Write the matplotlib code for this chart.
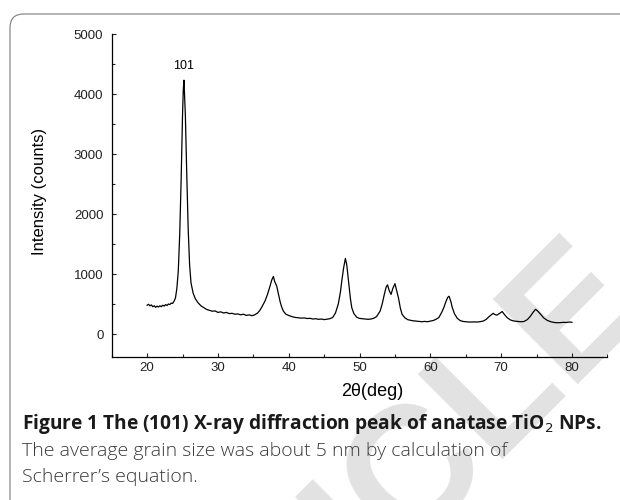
import matplotlib
matplotlib.use("Agg")
import matplotlib.pyplot as plt
from matplotlib.patches import FancyBboxPatch
from matplotlib.ticker import MultipleLocator

# XRD pattern: 2theta (deg) vs intensity (counts)
two_theta = [20.0, 20.2, 20.4, 20.6, 20.8, 21.0, 21.2, 21.4, 21.6, 21.8,
             22.0, 22.2, 22.4, 22.6, 22.8, 23.0, 23.2, 23.4, 23.6, 23.8,
             24.0, 24.2, 24.4, 24.6, 24.8, 25.0, 25.1, 25.2, 25.4, 25.6,
             25.8, 26.0, 26.2, 26.5, 26.8, 27.2, 27.6, 28.0, 28.4, 28.8,
             29.2, 29.6, 30.0, 30.4, 30.8, 31.2, 31.6, 32.0, 32.4, 32.8,
             33.2, 33.6, 34.0, 34.4, 34.8, 35.2, 35.6, 35.9, 36.2, 36.65,
             37.0, 37.36, 37.6, 37.83, 38.0, 38.3, 38.55, 38.78, 39.0, 39.25,
             39.6, 40.2, 40.6, 41.0, 41.4, 41.8, 42.2, 42.6, 43.0, 43.4,
             43.8, 44.2, 44.6, 45.0, 45.4, 45.8, 46.2, 46.6, 47.0, 47.3,
             47.5, 47.75, 48.0, 48.2, 48.45, 48.7, 48.9, 49.2, 49.6, 50.0,
             50.4, 50.8, 51.2, 51.6, 52.0, 52.4, 52.9, 53.2, 53.5, 53.75,
             53.95, 54.2, 54.45, 54.7, 55.0, 55.25, 55.5, 55.75, 56.0, 56.4,
             56.8, 57.2, 57.6, 58.0, 58.4, 58.8, 59.2, 59.6, 60.0, 60.4,
             60.8, 61.2, 61.6, 61.9, 62.2, 62.45, 62.65, 62.9, 63.1, 63.4,
             63.8, 64.2, 64.6, 65.0, 65.4, 65.8, 66.2, 66.6, 67.0, 67.5,
             67.9, 68.25, 68.6, 68.87, 69.1, 69.4, 69.8, 70.15, 70.5, 70.86,
             71.3, 71.8, 72.3, 72.8, 73.2, 73.7, 74.15, 74.5, 74.86, 75.1,
             75.57, 76.0, 76.5, 77.0, 77.5, 77.9, 78.4, 78.8, 79.2, 79.6,
             80.0]
counts = [480, 495, 470, 485, 455, 470, 445, 465, 450, 470,
          455, 480, 465, 490, 475, 500, 490, 515, 510, 545,
          600, 760, 1050, 1650, 2550, 3650, 4050, 4230, 3650, 2650,
          1750, 1150, 850, 680, 590, 520, 470, 440, 410, 395,
          380, 385, 360, 370, 350, 360, 340, 345, 330, 335,
          320, 330, 310, 320, 305, 320, 350, 390, 450, 550,
          660, 800, 900, 960, 880, 800, 660, 540, 450, 380,
          330, 300, 285, 275, 270, 265, 268, 258, 262, 250,
          255, 245, 250, 240, 248, 255, 275, 350, 500, 700,
          890, 1100, 1260, 1150, 880, 600, 440, 340, 280, 260,
          255, 250, 245, 250, 262, 290, 380, 500, 660, 780,
          820, 720, 660, 760, 840, 720, 600, 440, 330, 270,
          240, 228, 220, 215, 210, 205, 210, 205, 215, 225,
          245, 275, 360, 440, 540, 610, 630, 540, 440, 340,
          262, 225, 210, 205, 200, 200, 202, 200, 205, 217,
          245, 285, 320, 345, 325, 315, 345, 375, 320, 272,
          235, 217, 210, 205, 208, 240, 300, 360, 412, 390,
          330, 270, 228, 205, 192, 188, 190, 195, 192, 200,
          195]

peak_label = "101"
peak_x, peak_y = 25.15, 4470

caption_title = "Figure 1 The (101) X-ray diffraction peak of anatase TiO$_2$ NPs."
caption_body = ["The average grain size was about 5 nm by calculation of",
                "Scherrer\u2019s equation."]

fig = plt.figure(figsize=(6.2, 5.0), dpi=100)

# retracted-article watermark, behind everything
fig.text(0.57, -0.08, "ARTICLE", rotation=45, fontsize=125, color="#e2e2e2",
         fontweight="bold", family="Liberation Sans", ha="center", va="center",
         zorder=-5)

# rounded panel frame (only top/left edges fall inside the picture)
frame = FancyBboxPatch((10 / 620, -0.2), 1.2, 1.172 - 14 / 500 + 0.028,
                       boxstyle="round,pad=0,rounding_size=0.022",
                       mutation_aspect=620 / 500, transform=fig.transFigure,
                       facecolor="none", edgecolor="#8a8a8a", linewidth=0.9)
fig.patches.append(frame)

ax = fig.add_axes([0.1802, 0.2866, 0.7994, 0.6454])
ax.patch.set_alpha(0)
ax.plot(two_theta, counts, color="black", linewidth=0.9)

ax.set_xlim(15, 85)
ax.set_ylim(-378, 5000)
for side in ("top", "right"):
    ax.spines[side].set_visible(False)
for side in ("left", "bottom"):
    ax.spines[side].set_linewidth(0.9)

ax.xaxis.set_major_locator(MultipleLocator(10))
ax.xaxis.set_minor_locator(MultipleLocator(5))
ax.yaxis.set_major_locator(MultipleLocator(1000))
ax.yaxis.set_minor_locator(MultipleLocator(500))
ax.set_xticks([20, 30, 40, 50, 60, 70, 80])
ax.tick_params(which="both", direction="in", width=0.8, colors="#222222",
               labelsize=9.5)
ax.tick_params(which="major", length=3.2)
ax.tick_params(which="minor", length=2.0)
ax.tick_params(axis="x", pad=4)
ax.tick_params(axis="y", pad=6)
for lab in ax.get_xticklabels() + ax.get_yticklabels():
    lab.set_family("Liberation Sans")

ax.set_xlabel("2\u03b8(deg)", fontsize=13, family="Liberation Sans")
ax.set_ylabel("Intensity (counts)", fontsize=12, family="Liberation Sans")
ax.xaxis.set_label_coords(0.525, -0.083)
ax.yaxis.set_label_coords(-0.13, 0.513)

ax.text(peak_x, peak_y, peak_label, ha="center", va="center", fontsize=9,
        family="Liberation Sans")

fig.text(22 / 620, 1 - 424 / 500, caption_title, fontsize=13.8,
         fontweight="bold", family="Open Sans", color="#1a1a1a",
         ha="left", va="center")
for i, line in enumerate(caption_body):
    fig.text(22 / 620, 1 - (451 + 26 * i) / 500, line, fontsize=14,
             fontweight="light", family="Open Sans", color="#3a3a3a",
             ha="left", va="center")

fig.savefig("out.png", dpi=100)
